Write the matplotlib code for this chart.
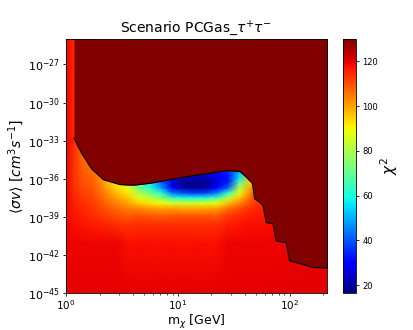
import numpy as np
import matplotlib
matplotlib.use("Agg")
import matplotlib.pyplot as plt
from matplotlib.colors import Normalize

# ---- data ----
# grid nodes: log10(m_chi / GeV) and log10(<sigma v> / cm^3 s^-1)
log_m_nodes = [0.0, 0.07, 0.15, 0.25, 0.35, 0.45, 0.55, 0.65, 0.75, 0.85,
               0.95, 1.05, 1.15, 1.25, 1.35, 1.45, 1.55, 1.65, 1.8, 2.4]
log_sv_nodes = [-45, -41, -39.5, -38.8, -38.3, -37.9, -37.5, -37.1, -36.7,
                -36.3, -35.9, -35.5, -35.0, -34.0, -33.0, -25]

# chi^2 values, one list per mass column (bottom -> top)
chi2_cols = [
    [119, 119, 119, 119, 119, 119, 119, 119, 119, 119, 119, 119, 119, 119, 119, 119],
    [120, 119, 118, 117, 116, 116, 115, 115, 114, 114, 114, 114, 114, 114, 115, 115],
    [120, 119, 117, 116, 115, 114, 113, 112, 111, 110, 110, 109, 108, 107, 107, 107],
    [120, 119, 116, 114, 113, 112, 111, 110, 109, 108, 107, 106, 106, 106, 106, 106],
    [120, 119, 115, 112, 110, 108, 106, 104, 102, 100, 100, 100, 100, 100, 100, 100],
    [120, 119, 114, 110, 107, 104, 101, 97, 94, 92, 92, 92, 92, 92, 92, 92],
    [120, 118, 113, 108, 104, 100, 96, 92, 88, 86, 86, 86, 86, 86, 86, 86],
    [120, 118, 114, 109, 103, 95, 87, 80, 72, 70, 70, 70, 70, 70, 70, 70],
    [120, 118, 114, 108, 101, 92, 82, 72, 62, 58, 58, 58, 58, 58, 58, 58],
    [120, 118, 114, 107, 100, 89, 76, 62, 48, 42, 42, 42, 42, 42, 42, 42],
    [120, 118, 114, 108, 100, 86, 64, 44, 28, 26, 30, 30, 30, 30, 30, 30],
    [120, 118, 114, 108, 99, 85, 61, 39, 21, 18, 24, 24, 24, 24, 24, 24],
    [120, 118, 114, 108, 99, 85, 60, 37, 19, 16, 22, 24, 24, 24, 24, 24],
    [120, 118, 114, 108, 99, 86, 61, 38, 21, 18, 21, 25, 25, 25, 25, 25],
    [120, 118, 114, 108, 100, 88, 66, 45, 30, 26, 27, 29, 29, 29, 29, 29],
    [120, 119, 116, 112, 106, 97, 82, 62, 42, 34, 32, 34, 34, 34, 34, 34],
    [120, 119, 117, 114, 110, 104, 96, 88, 80, 68, 56, 52, 52, 52, 52, 52],
    [120, 119, 118, 116, 114, 111, 108, 104, 100, 96, 96, 96, 96, 96, 96, 96],
    [120, 119, 118, 117, 117, 117, 117, 117, 117, 117, 117, 117, 117, 117, 117, 117],
    [120, 120, 120, 120, 120, 120, 120, 120, 120, 120, 120, 120, 120, 120, 120, 120],
]

# exclusion contour (black line); above it chi^2 is saturated
contour_log_m = [0.071, 0.140, 0.229, 0.333, 0.482, 0.601, 0.750, 0.929, 1.137,
                 1.286, 1.435, 1.554, 1.598, 1.667, 1.688, 1.732, 1.762, 1.792,
                 1.851, 1.881, 1.970, 2.000, 2.089, 2.208, 2.340]
contour_log_sv = [-32.79, -34.0, -35.22, -36.06, -36.45, -36.50, -36.35, -36.06,
                  -35.74, -35.56, -35.35, -35.41, -35.74, -36.35, -37.57, -37.83,
                  -38.09, -39.44, -39.52, -40.88, -41.01, -42.45, -42.65, -42.97,
                  -43.0]

chi2_min, chi2_max = 16.3, 130.0
cbar_ticks = [20, 40, 60, 80, 100, 120]
x_limits = (1.0, 215.0)
y_limits = (1e-45, 1e-25)
y_ticks = [1e-45, 1e-42, 1e-39, 1e-36, 1e-33, 1e-30, 1e-27]

title = "Scenario PCGas_$\\tau^{+}\\tau^{-}$"
xlabel = "m$_{\\chi}$ [GeV]"
ylabel = "$\\langle\\sigma v\\rangle\\ [cm^{3}s^{-1}]$"
cbar_label = "$\\chi^{2}$"

# ---- figure ----
W, H = 413, 330
fig = plt.figure(figsize=(W / 100, H / 100), dpi=100)
ax = fig.add_axes([66 / W, 1 - 293.3 / H, (326.7 - 66) / W, (293.3 - 39) / H])
cax = fig.add_axes([343 / W, 1 - 293.3 / H, 13 / W, (293.3 - 39) / H])

cmap = plt.get_cmap("jet")
norm = Normalize(vmin=chi2_min, vmax=chi2_max)

M, S = np.meshgrid(10.0 ** np.array(log_m_nodes), 10.0 ** np.array(log_sv_nodes))
Z = np.array(chi2_cols, dtype=float).T
ax.set_xscale("log")
ax.set_yscale("log")
mesh = ax.pcolormesh(M, S, Z, cmap=cmap, norm=norm, shading="gouraud",
                     rasterized=True)

cm_x = 10.0 ** np.array(contour_log_m)
cm_y = 10.0 ** np.array(contour_log_sv)
ax.fill_between(cm_x, cm_y, y_limits[1], color=cmap(1.0), lw=0, zorder=2)
ax.plot(cm_x, cm_y, color="black", lw=0.8, zorder=3)

ax.set_xlim(*x_limits)
ax.set_ylim(*y_limits)
ax.set_yticks(y_ticks)
ax.tick_params(which="major", labelsize=8, length=2.5, width=0.6, pad=2)
ax.tick_params(axis="x", which="major", labelsize=7.5, pad=1)
ax.tick_params(which="minor", length=1.5, width=0.5)
for sp in ax.spines.values():
    sp.set_linewidth(0.6)
ax.set_title(title, fontsize=10, pad=5)
ax.set_xlabel(xlabel, fontsize=9, labelpad=0.5)
ax.set_ylabel(ylabel, fontsize=10, labelpad=1)

cb = fig.colorbar(mesh, cax=cax, ticks=cbar_ticks)
cb.ax.tick_params(labelsize=6, length=2.5, width=0.6, pad=2)
cb.outline.set_linewidth(0.6)
cb.set_label(cbar_label, fontsize=11, labelpad=0)

fig.savefig("out.png", dpi=100)
